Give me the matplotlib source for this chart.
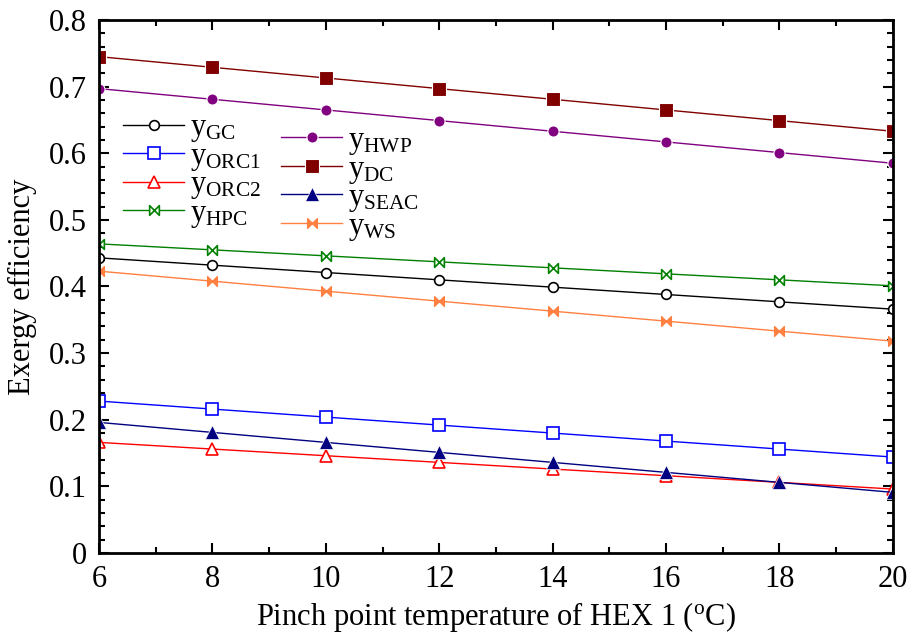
import matplotlib
matplotlib.use("Agg")
import matplotlib.pyplot as plt
from matplotlib.path import Path
from matplotlib.ticker import MultipleLocator

plt.rcParams['font.family'] = ['Liberation Serif', 'DejaVu Serif']
plt.rcParams['mathtext.fontset'] = 'custom'
plt.rcParams['mathtext.rm'] = 'Liberation Serif'
plt.rcParams['mathtext.it'] = 'Liberation Serif'

x = [6, 8, 10, 12, 14, 16, 18, 20]
y_gc = [0.443, 0.432, 0.421, 0.410, 0.399, 0.388, 0.377, 0.366]
y_orc1 = [0.228, 0.216, 0.204, 0.192, 0.180, 0.168, 0.156, 0.144]
y_orc2 = [0.166, 0.156, 0.146, 0.136, 0.126, 0.116, 0.106, 0.096]
y_hpc = [0.464, 0.455, 0.446, 0.437, 0.428, 0.419, 0.410, 0.401]
y_hwp = [0.697, 0.681, 0.665, 0.649, 0.633, 0.617, 0.601, 0.585]
y_dc = [0.745, 0.729, 0.713, 0.697, 0.681, 0.665, 0.649, 0.633]
y_seac = [0.196, 0.181, 0.166, 0.151, 0.136, 0.121, 0.106, 0.091]
y_ws = [0.423, 0.408, 0.393, 0.378, 0.363, 0.348, 0.333, 0.318]

bowtie = Path([(-1, 1), (-1, -1), (1, 1), (1, -1), (-1, 1)],
              [Path.MOVETO, Path.LINETO, Path.LINETO, Path.LINETO, Path.CLOSEPOLY])

fig = plt.figure(figsize=(9.11, 6.39), dpi=100)
ax = fig.add_axes([0.1087, 0.1346, 0.8713, 0.8341])

lw = 1.0
h1 = []
h1 += ax.plot(x, y_gc, color='black', lw=lw, marker='o', ms=7, mfc='white', mec='black', mew=1.2, label=r'$\mathrm{y_{GC}}$')
h1 += ax.plot(x, y_orc1, color='blue', lw=lw, marker='s', ms=8, mfc='white', mec='blue', mew=1.2, label=r'$\mathrm{y_{ORC1}}$')
h1 += ax.plot(x, y_orc2, color='red', lw=lw, marker='^', ms=8, mfc='white', mec='red', mew=1.2, label=r'$\mathrm{y_{ORC2}}$')
h1 += ax.plot(x, y_hpc, color='green', lw=lw, marker=bowtie, ms=7, mfc='white', mec='green', mew=1.2, label=r'$\mathrm{y_{HPC}}$')
h2 = []
h2 += ax.plot(x, y_hwp, color='purple', lw=lw, marker='o', ms=8, mfc='purple', mec='white', mew=0.8, label=r'$\mathrm{y_{HWP}}$')
h2 += ax.plot(x, y_dc, color='#800000', lw=lw, marker='s', ms=10, mfc='#800000', mec='white', mew=0.8, label=r'$\mathrm{y_{DC}}$')
h2 += ax.plot(x, y_seac, color='navy', lw=lw, marker='^', ms=10, mfc='navy', mec='white', mew=0.5, label=r'$\mathrm{y_{SEAC}}$')
h2 += ax.plot(x, y_ws, color='#FF8040', lw=lw, marker=bowtie, ms=7, mfc='#FF8040', mec='#FF8040', label=r'$\mathrm{y_{WS}}$')

ax.set_xlim(6, 20)
ax.set_ylim(0, 0.8)
ax.xaxis.set_major_locator(MultipleLocator(2))
ax.xaxis.set_minor_locator(MultipleLocator(1))
ax.yaxis.set_major_locator(MultipleLocator(0.1))
ax.yaxis.set_minor_locator(MultipleLocator(0.02))
ax.set_yticks([0, 0.1, 0.2, 0.3, 0.4, 0.5, 0.6, 0.7, 0.8])
ax.set_yticklabels(['0', '0.1', '0.2', '0.3', '0.4', '0.5', '0.6', '0.7', '0.8'])
ax.tick_params(which='both', direction='in', top=True, right=True, labelsize=22, width=1.5)
ax.tick_params(which='major', length=7, pad=9)
ax.tick_params(which='minor', length=4)
for s in ax.spines.values():
    s.set_linewidth(2)

ax.set_xlabel('Pinch point temperature of HEX 1 ($\\mathregular{^{o}}$C)', fontsize=22, labelpad=4)
ax.set_ylabel('Exergy efficiency', fontsize=22, labelpad=8)

leg1 = ax.legend(handles=h1, loc='upper left', bbox_to_anchor=(0.015, 0.848), frameon=False,
                 fontsize=22, handlelength=2.0, labelspacing=-0.08, handletextpad=0.2, borderaxespad=0)
ax.add_artist(leg1)
leg2 = ax.legend(handles=h2, loc='upper left', bbox_to_anchor=(0.214, 0.824), frameon=False,
                 fontsize=22, handlelength=2.0, labelspacing=-0.08, handletextpad=0.2, borderaxespad=0)

fig.savefig('out.png', dpi=100)
